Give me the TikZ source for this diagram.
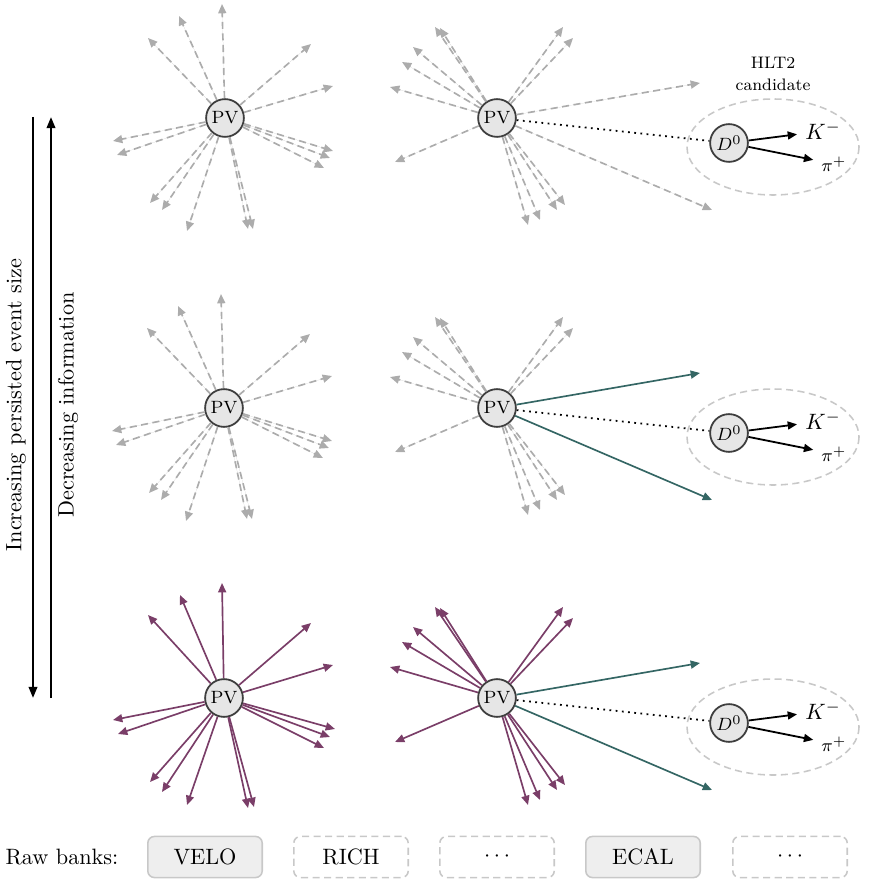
\documentclass[tikz,border=0pt]{standalone}
\usetikzlibrary{arrows.meta}

\definecolor{trkgrey}{RGB}{172,172,172}
\definecolor{trkpurple}{RGB}{122,62,104}
\definecolor{trkteal}{RGB}{52,102,100}
\definecolor{vtxfill}{RGB}{230,230,230}
\definecolor{vtxline}{RGB}{62,62,62}
\definecolor{boxline}{RGB}{200,200,200}
\definecolor{boxfill}{RGB}{238,238,238}

\tikzset{every picture/.style={line width=0.75pt}}
\tikzset{
  vtx/.style={circle,draw=vtxline,fill=vtxfill,line width=0.8pt,minimum size=17pt,inner sep=0pt,font=\footnotesize},
  trk/.style={-{Triangle[length=4.2pt,width=3.6pt]},line width=0.75pt},
  ghost/.style={trk,draw=trkgrey,fill=trkgrey,dash pattern=on 3.2pt off 2pt},
  kept/.style={trk,draw=trkpurple,fill=trkpurple},
  sel/.style={trk,draw=trkteal,fill=trkteal},
  dau/.style={-{Triangle[length=4.2pt,width=3.6pt]},line width=0.8pt},
  cand/.style={draw=boxline,dash pattern=on 3.2pt off 2pt,line width=0.7pt},
  bank/.style={draw=boxline,line width=0.7pt,rounded corners=3pt,minimum width=51.5pt,minimum height=18.5pt},
  keptbank/.style={bank,fill=boxfill},
  dropbank/.style={bank,dash pattern=on 3.2pt off 2pt},
}

\begin{document}
\begin{tikzpicture}[x=0.45pt,y=0.45pt,yscale=-1,xscale=1]
\useasboundingbox (0,0) rectangle (868,882);

%Arrows [left side]
\coordinate (szTop) at (33,117);
\coordinate (szBot) at (33,698);
\coordinate (infTop) at (51,117);
\coordinate (infBot) at (51,698);
\draw [-{Triangle[length=5pt,width=3.8pt]},line width=1pt] (szTop) -- (szBot);
\draw [-{Triangle[length=5pt,width=3.8pt]},line width=1pt] (infBot) -- (infTop);
% Text Node
\node (szText) at (16,405) [rotate=90] {Increasing persisted event size};
% Text Node
\node (infText) at (68,405) [rotate=90] {Decreasing information};

%Row A: all tracks dropped
\node (pvLA) at (225,118) [vtx] {PV};
\node (pvMA) at (497,118) [vtx] {PV};
\node (dA) at (729,143) [vtx] {$D^0$};
\foreach \dx/\dy in {-3/-114,-46/-102,-77/-80,86/-74,108/-32,-112/23,-108/37,108/33,105/40,99/50,-75/85,-63/92,-38/113,23/111,28/111}
  \draw [ghost] (pvLA) -- +(\dx,\dy);
\foreach \dx/\dy in {-62/-91,-57/-90,-84/-71,-95/-56,-107/-31,-102/44,66/-91,76/-80,31/107,43/102,60/92,68/87,203/-35,215/92}
  \draw [ghost] (pvMA) -- +(\dx,\dy);
\draw [cand] (773,147) ellipse [x radius=86,y radius=48];
\node (kA) at (823,131) {$K^-$};
\node (piA) at (834,164) [font=\footnotesize] {$\pi^+$};
\draw [dotted,line width=0.8pt] (pvMA) -- (dA);
\draw [dau] (dA) -- (kA);
\draw [dau] (dA) -- (piA);
% Text Node
\node (hltText) at (773,74) [font={\fontsize{7.5}{10}\selectfont},align=center] {HLT2\\candidate};

%Row B: signal tracks kept
\node (pvLB) at (224,408) [vtx] {PV};
\node (pvMB) at (497,408) [vtx] {PV};
\node (dB) at (729,433) [vtx] {$D^0$};
\foreach \dx/\dy in {-3/-114,-46/-102,-77/-80,86/-74,108/-32,-112/23,-108/37,108/33,105/40,99/50,-75/85,-63/92,-38/113,23/111,28/111}
  \draw [ghost] (pvLB) -- +(\dx,\dy);
\foreach \dx/\dy in {-62/-91,-57/-90,-84/-71,-95/-56,-107/-31,-102/44,66/-91,76/-80,31/107,43/102,60/92,68/87}
  \draw [ghost] (pvMB) -- +(\dx,\dy);
\foreach \dx/\dy in {203/-35,215/92}
  \draw [sel] (pvMB) -- +(\dx,\dy);
\draw [cand] (773,437) ellipse [x radius=86,y radius=48];
\node (kB) at (823,421) {$K^-$};
\node (piB) at (834,454) [font=\footnotesize] {$\pi^+$};
\draw [dotted,line width=0.8pt] (pvMB) -- (dB);
\draw [dau] (dB) -- (kB);
\draw [dau] (dB) -- (piB);

%Row C: all tracks kept
\node (pvLC) at (224,698) [vtx] {PV};
\node (pvMC) at (497,698) [vtx] {PV};
\node (dC) at (729,723) [vtx] {$D^0$};
\foreach \dx/\dy in {-2/-115,-44/-103,-76/-83,87/-75,109/-33,-111/22,-106/36,111/31,106/39,100/50,-74/84,-62/94,-37/107,24/110,30/109}
  \draw [kept] (pvLC) -- +(\dx,\dy);
\foreach \dx/\dy in {-62/-91,-57/-90,-84/-71,-95/-56,-107/-31,-102/44,66/-91,76/-80,31/107,43/102,60/92,68/87}
  \draw [kept] (pvMC) -- +(\dx,\dy);
\foreach \dx/\dy in {203/-35,215/92}
  \draw [sel] (pvMC) -- +(\dx,\dy);
\draw [cand] (773,727) ellipse [x radius=86,y radius=48];
\node (kC) at (823,711) {$K^-$};
\node (piC) at (834,744) [font=\footnotesize] {$\pi^+$};
\draw [dotted,line width=0.8pt] (pvMC) -- (dC);
\draw [dau] (dC) -- (kC);
\draw [dau] (dC) -- (piC);

%Raw banks
% Text Node
\node (rawText) at (62,857) {Raw banks:};
\node (velo) at (205,857) [keptbank] {VELO};
\node (rich) at (351,857) [dropbank] {RICH};
\node (dotsA) at (497,857) [dropbank] {$\cdots$};
\node (ecal) at (643,857) [keptbank] {ECAL};
\node (dotsB) at (790,857) [dropbank] {$\cdots$};

\end{tikzpicture}
\end{document}
